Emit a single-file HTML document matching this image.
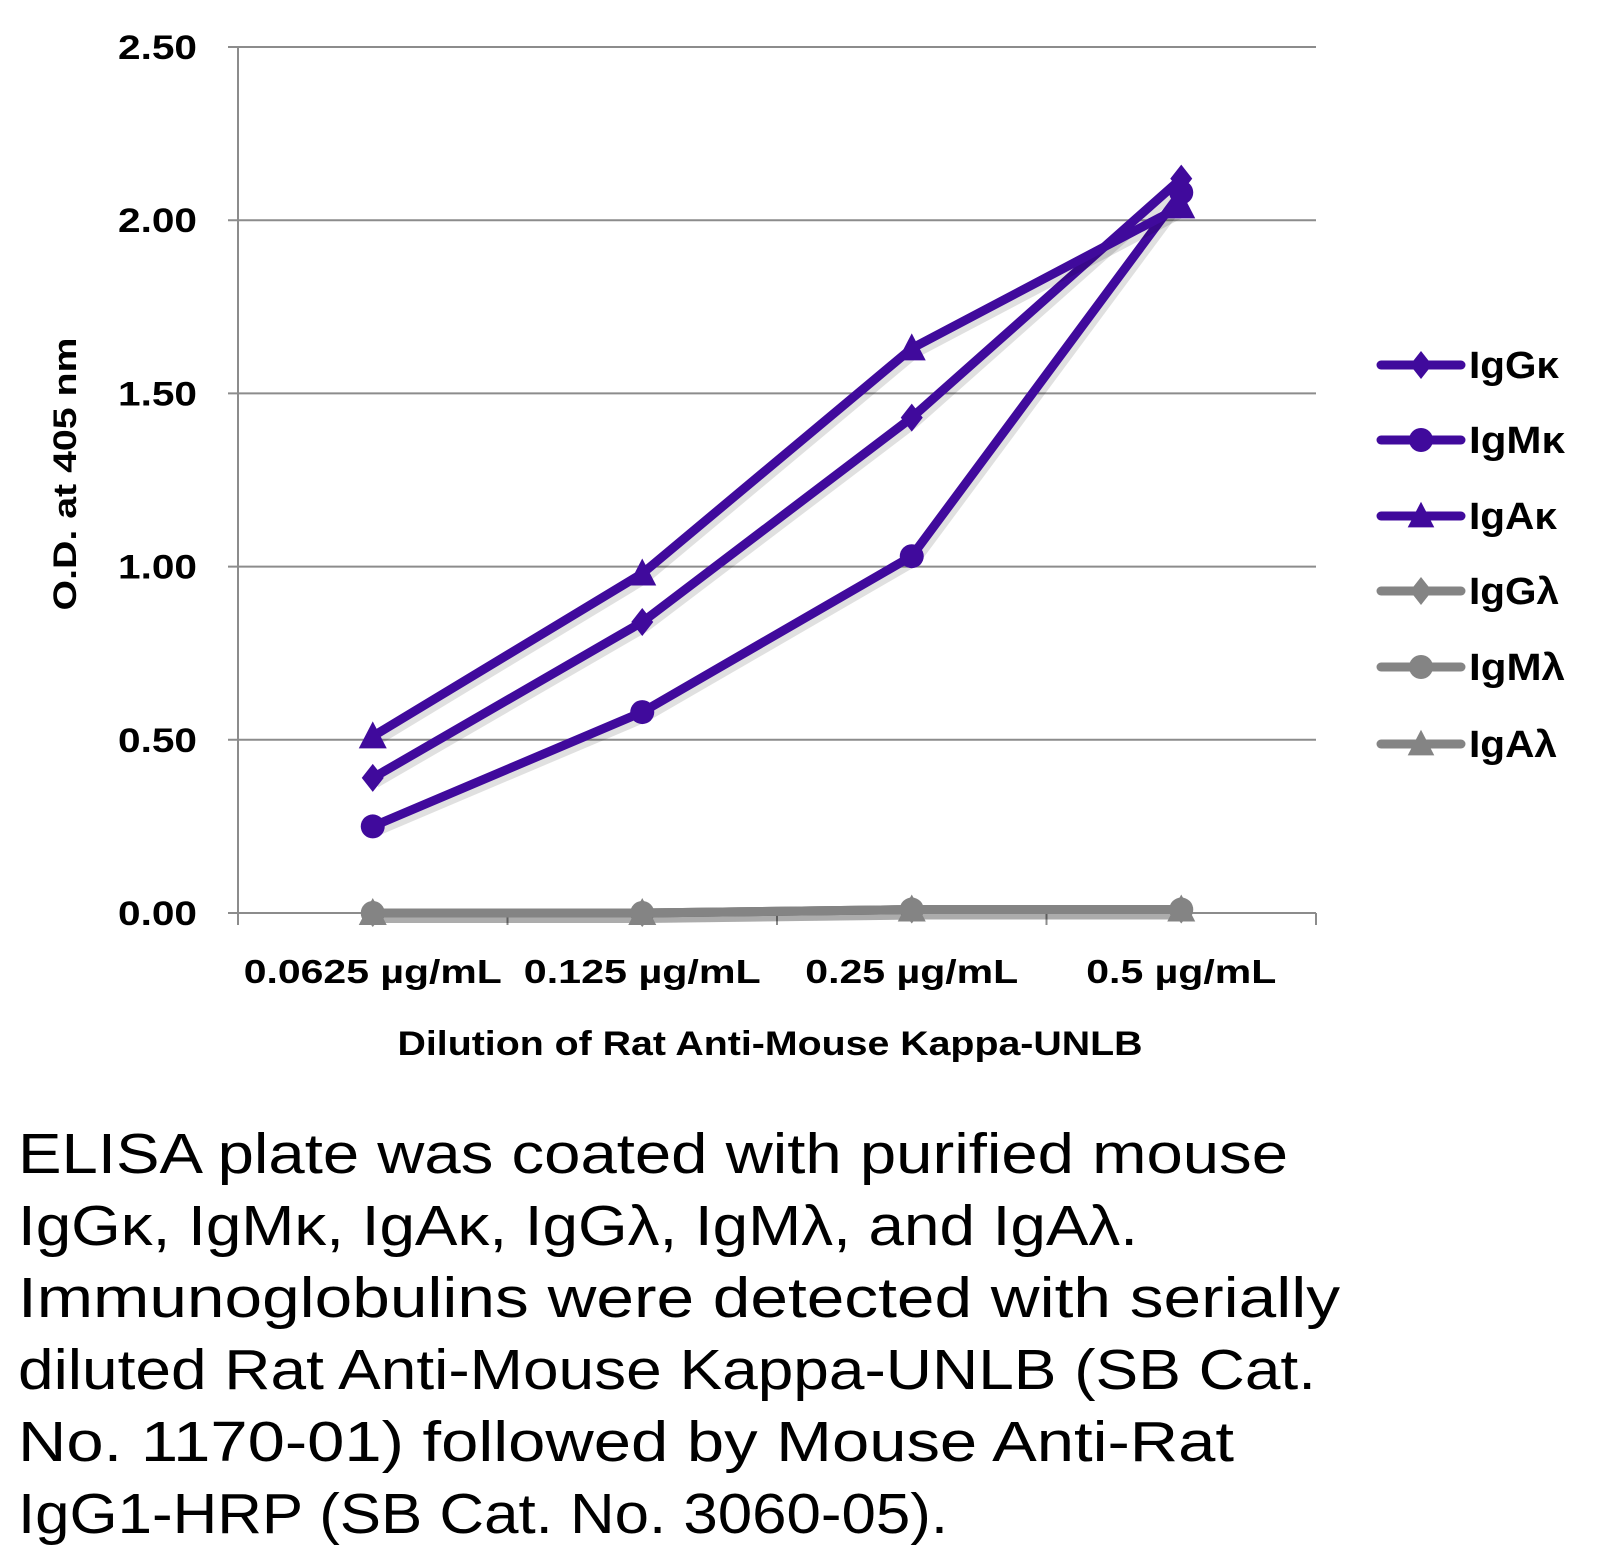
<!DOCTYPE html>
<html><head><meta charset="utf-8"><style>
html,body{margin:0;padding:0;background:#fff;}
svg{display:block;font-family:"Liberation Sans",sans-serif;}
</style></head><body>
<svg id="chart" width="1605" height="1560" viewBox="0 0 1605 1560" xmlns="http://www.w3.org/2000/svg">
<g id="grid"></g>
<g id="yticks"></g>
<g id="xticks"></g>
<g id="series"></g>
<g id="legend"></g>
<text transform="translate(76,474) rotate(-90)" text-anchor="middle" font-size="32" font-weight="bold" textLength="273" lengthAdjust="spacingAndGlyphs">O.D. at 405 nm</text>
<text x="770" y="1055" text-anchor="middle" font-size="34" font-weight="bold" textLength="745" lengthAdjust="spacingAndGlyphs">Dilution of Rat Anti-Mouse Kappa-UNLB</text>
<g font-size="57" fill="#000">
<text x="18" y="1173" textLength="1270" lengthAdjust="spacingAndGlyphs">ELISA plate was coated with purified mouse</text>
<text x="18" y="1245" textLength="1120" lengthAdjust="spacingAndGlyphs">IgGκ, IgMκ, IgAκ, IgGλ, IgMλ, and IgAλ.</text>
<text x="18" y="1317" textLength="1322" lengthAdjust="spacingAndGlyphs">Immunoglobulins were detected with serially</text>
<text x="18" y="1389" textLength="1298" lengthAdjust="spacingAndGlyphs">diluted Rat Anti-Mouse Kappa-UNLB (SB Cat.</text>
<text x="18" y="1461" textLength="1216" lengthAdjust="spacingAndGlyphs">No. 1170-01) followed by Mouse Anti-Rat</text>
<text x="18" y="1533" textLength="930" lengthAdjust="spacingAndGlyphs">IgG1-HRP (SB Cat. No. 3060-05).</text>
</g>
</svg>
<script>
const categories = ["0.0625 µg/mL","0.125 µg/mL","0.25 µg/mL","0.5 µg/mL"];
const yTicks = [0,0.5,1,1.5,2,2.5];
const yTickLabels = ["0.00","0.50","1.00","1.50","2.00","2.50"];
const seriesNames = ["IgGκ","IgMκ","IgAκ","IgGλ","IgMλ","IgAλ"];
const igGk = [0.39,0.84,1.43,2.12];
const igMk = [0.25,0.58,1.03,2.08];
const igAk = [0.51,0.98,1.63,2.04];
const igGl = [0.00,0.00,0.01,0.01];
const igMl = [0.00,0.00,0.01,0.01];
const igAl = [0.00,0.00,0.01,0.01];

const NS="http://www.w3.org/2000/svg";
const X0=238,X1=1316,Y0=913,Y1=47;
const x=i=>X0+(X1-X0)/categories.length*(i+0.5);
const y=v=>Y0-(Y0-Y1)*v/2.5;
const xLabelLen=[258,237,213,190];
function mk(tag,attrs,parent){const e=document.createElementNS(NS,tag);for(const k in attrs)e.setAttribute(k,attrs[k]);parent.appendChild(e);return e;}
const grid=document.getElementById('grid'),yt=document.getElementById('yticks'),xt=document.getElementById('xticks'),sg=document.getElementById('series'),lg=document.getElementById('legend');
yTicks.forEach((t,i)=>{
  const l=mk('line',{x1:X0-10,x2:X1,y1:y(t),y2:y(t),stroke:'#8c8c8c','stroke-width':2},grid);
  
  
  const tx=mk('text',{x:197,y:y(t)+12,'text-anchor':'end','font-size':34,'font-weight':'bold',textLength:79,lengthAdjust:'spacingAndGlyphs'},yt);
  tx.textContent=yTickLabels[i];
  
  
});
const ax=mk('line',{x1:X0,x2:X0,y1:Y1,y2:Y0+12,stroke:'#8c8c8c','stroke-width':2},grid);


for(let i=0;i<=categories.length;i++){
  const xx=X0+(X1-X0)/categories.length*i;
  const tk=mk('line',{x1:xx,x2:xx,y1:Y0,y2:Y0+12,stroke:'#8c8c8c','stroke-width':2},grid);
  
  
}
categories.forEach((c,i)=>{
  const tx=mk('text',{x:x(i),y:983,'text-anchor':'middle','font-size':33,'font-weight':'bold',textLength:xLabelLen[i],lengthAdjust:'spacingAndGlyphs'},xt);
  tx.textContent=c;
  
  
});
const PURPLE='#400a9c',GRAY='#848484';
const data=[igGl,igMl,igAl,igGk,igMk,igAk];
const names=[seriesNames[3],seriesNames[4],seriesNames[5],seriesNames[0],seriesNames[1],seriesNames[2]];
const colors=[GRAY,GRAY,GRAY,PURPLE,PURPLE,PURPLE];
const shapes=['d','c','t','d','c','t'];
function marker(shape,cx,cy,col,parent,s){
  s=s||1;let e;
  if(shape==='d') e=mk('polygon',{points:`${cx},${cy-14*s} ${cx+11*s},${cy} ${cx},${cy+14*s} ${cx-11*s},${cy}`,fill:col},parent);
  else if(shape==='c') e=mk('circle',{cx:cx,cy:cy,r:12*s,fill:col},parent);
  else e=mk('polygon',{points:`${cx},${cy-15*s} ${cx+14*s},${cy+12*s} ${cx-14*s},${cy+12*s}`,fill:col},parent);
  return e;
}
data.forEach((arr,si)=>{
  const g=mk('g',{},sg);
  
  
  const pts=arr.map((v,i)=>x(i)+','+y(v)).join(' ');
  const sh=mk('polyline',{points:arr.map((v,i)=>(x(i)+3)+','+(y(v)+5)).join(' '),fill:'none',stroke:'#000','stroke-opacity':0.12,'stroke-width':10,'stroke-linejoin':'round'},g);
  
  
  const pl=mk('polyline',{points:pts,fill:'none',stroke:colors[si],'stroke-width':9,'stroke-linejoin':'round','stroke-linecap':'round'},g);
  
  
  arr.forEach((v,i)=>{
    const m=marker(shapes[si],x(i),y(v),colors[si],g);
    
    
  });
});
const legY=[365,440,516,591,667,744];
const legLen=[90,96,88,90,96,88];
seriesNames.forEach((n,i)=>{
  const col=i<3?PURPLE:GRAY,shape=['d','c','t'][i%3];
  const g=mk('g',{},lg);
  
  
  mk('line',{x1:1381,x2:1461,y1:legY[i],y2:legY[i],stroke:col,'stroke-width':9,'stroke-linecap':'round'},g);
  marker(shape,1421,legY[i],col,g,shape==='t'?0.95:1);
  const t=mk('text',{x:1469,y:legY[i]+13,'font-size':38,'font-weight':'bold',textLength:legLen[i],lengthAdjust:'spacingAndGlyphs'},g);
  t.textContent=n;
});
</script>
</body></html>
